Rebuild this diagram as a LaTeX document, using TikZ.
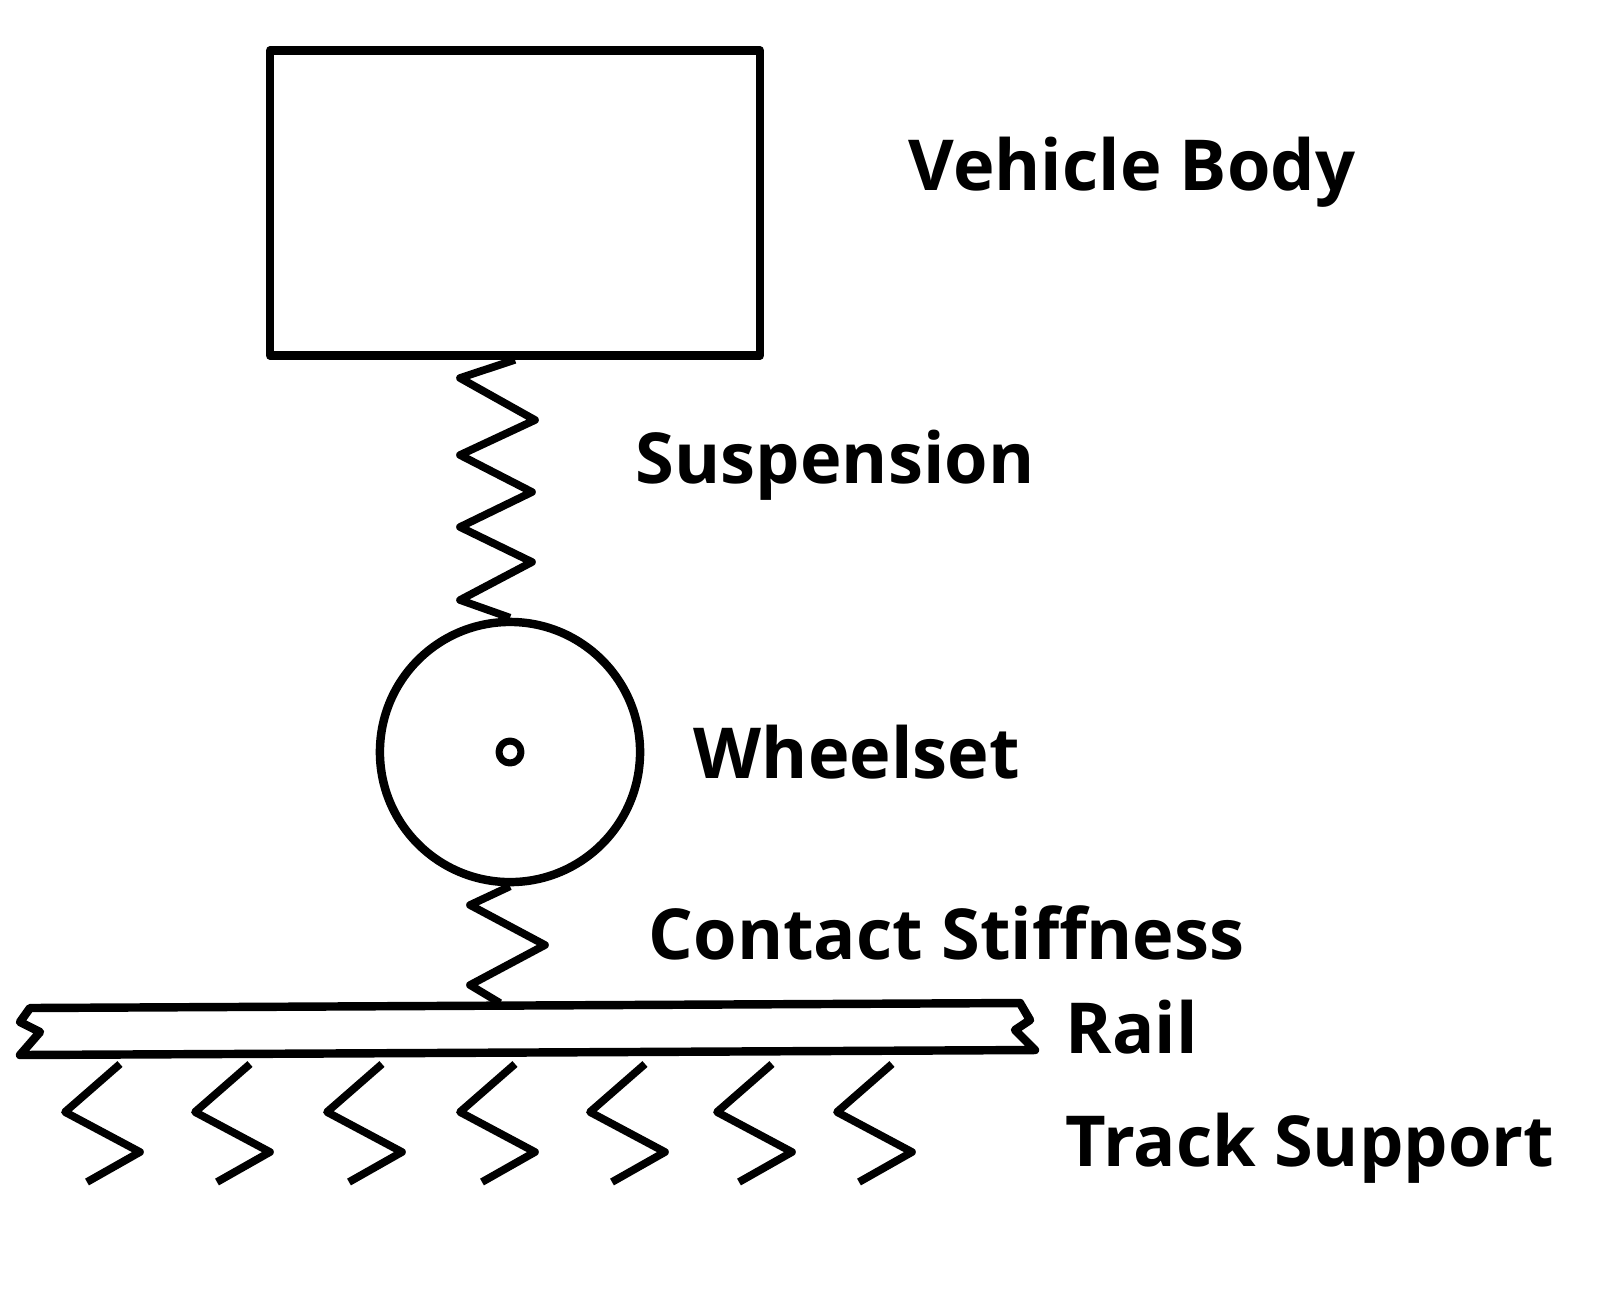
\documentclass[tikz,border=0pt]{standalone}
\usepackage{fontspec}
\setmainfont{Open Sans}
\begin{document}
\begin{tikzpicture}[x=0.01cm,y=-0.01cm,line width=2.2pt,line join=round,
  lbl/.style={anchor=west,font=\fontsize{20}{24}\selectfont\bfseries,inner sep=0pt},
  spring/.style={line width=2.2pt}]
\useasboundingbox (0,0) rectangle (1600,1296);
\node[draw,line width=2.4pt,minimum width=4.9cm,minimum height=3.05cm,inner sep=0pt] (body) at (515,203) {};
\node[circle,draw,line width=2.4pt,minimum size=2.6cm,inner sep=0pt] (wheel) at (510,752) {};
\node[circle,draw,line width=2pt,minimum size=0.22cm,inner sep=0pt] (hub) at (510,752) {};
\coordinate (railtop) at (500,1003);
\draw[spring] (body.south) -- (460,378) -- (535,420) -- (460,455) -- (532,492) -- (460,527) -- (532,562) -- (460,600) -- (wheel.north);
\draw[spring] (wheel.south) -- (470,905) -- (545,945) -- (470,985) -- (railtop);
\draw[line width=2.4pt] (30,1008) -- (1020,1003) -- (1030,1020) -- (1015,1030) -- (1035,1050) -- (20,1055) -- (40,1032) -- (20,1022) -- cycle;
\foreach \x in {0,130,262,395,525,652,772}{
  \draw[spring] (120+\x,1064) -- (65+\x,1112) -- (140+\x,1152) -- (87+\x,1182);
}
\node[lbl] (t1) at (905,172) {Vehicle Body};
\node[lbl] (t2) at (632,465) {Suspension};
\node[lbl] (t3) at (690,752) {Wheelset};
\node[lbl] (t4) at (645,933) {Contact Stiffness};
\node[lbl] (t5) at (1062,1027) {Rail};
\node[lbl] (t6) at (1062,1148) {Track Support};
\end{tikzpicture}
\end{document}
